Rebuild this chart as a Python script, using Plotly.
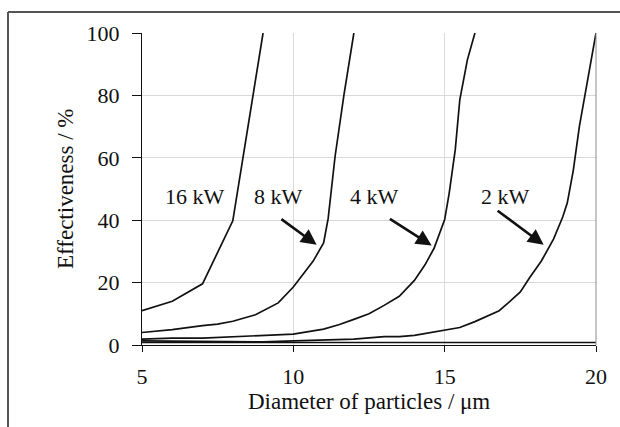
import plotly.graph_objects as go

# Data
x_16kw = [5, 6, 7, 8, 9]
y_16kw = [11, 14, 19.6, 39.8, 100]

x_8kw = [5, 6, 7, 7.5, 8, 8.75, 9.5, 10, 10.65, 11, 11.15, 11.38, 11.67, 12]
y_8kw = [4.0, 4.9, 6.2, 6.7, 7.6, 9.7, 13.5, 18.6, 26.8, 32.7, 40.5, 60.5, 80, 100]

x_4kw = [5, 6, 7, 8, 9, 10, 11, 11.5, 12, 12.5, 13, 13.5, 14, 14.35, 14.65, 14.85,
         15, 15.15, 15.35, 15.5, 15.75, 16]
y_4kw = [1.9, 2.2, 2.2, 2.7, 3.1, 3.5, 5.1, 6.5, 8.2, 10.0, 12.7, 15.6, 20.7, 25.7,
         31, 36, 40.2, 48.7, 62.6, 78.6, 91.4, 100]

x_2kw = [5, 7, 9, 10, 11, 12, 13, 13.5, 14, 15, 15.5, 16, 16.8, 17.1, 17.5, 17.8,
         18.2, 18.6, 18.9, 19.05, 19.25, 19.45, 19.7, 20]
y_2kw = [1.3, 1.1, 1.0, 1.3, 1.5, 1.9, 2.7, 2.7, 3.1, 4.8, 5.6, 7.5, 11, 13.5, 17,
         21.5, 27, 34, 41, 45.5, 56, 70, 84, 100]

x_flat = [5, 20]
y_flat = [0.8, 0.8]

labels = ["16 kW", "8 kW", "4 kW", "2 kW"]
label_x = [6.75, 9.52, 12.68, 17.02]
label_y = [47.6, 47.6, 47.6, 47.6]

arrow_tail_x = [9.555, 13.14, 16.70]
arrow_tail_y = [40.7, 40.7, 43.4]
arrow_tip_x = [10.77, 14.57, 18.27]
arrow_tip_y = [32.1, 31.9, 32.1]

x_ticks = [5, 10, 15, 20]
y_ticks = [0, 20, 40, 60, 80, 100]

x_title = "Diameter of particles / μm"
y_title = "Effectiveness / %"

FONT = "Liberation Serif"
fig = go.Figure()
for xs, ys in [(x_16kw, y_16kw), (x_8kw, y_8kw), (x_4kw, y_4kw), (x_2kw, y_2kw), (x_flat, y_flat)]:
    fig.add_trace(go.Scatter(x=xs, y=ys, mode="lines",
                             line=dict(color="#111111", width=1.7),
                             showlegend=False, hoverinfo="skip"))

pw = 620 - 142 - 24
ph = 427 - 33 - 82

annotations = []
for t, lx, ly in zip(labels, label_x, label_y):
    annotations.append(dict(x=lx, y=ly, text=t, showarrow=False, xref="x", yref="y",
                            font=dict(family=FONT, size=22, color="#111111")))
for tx, ty, hx, hy in zip(arrow_tail_x, arrow_tail_y, arrow_tip_x, arrow_tip_y):
    annotations.append(dict(x=hx, y=hy, ax=tx, ay=ty, xref="x", yref="y",
                            axref="x", ayref="y", text="", showarrow=True,
                            arrowhead=2, arrowsize=1.2, arrowwidth=2.6,
                            arrowcolor="#111111"))
annotations.append(dict(x=0.5, y=(345 - 401) / ph, xref="paper", yref="paper",
                        text=x_title, showarrow=False, yanchor="middle",
                        font=dict(family=FONT, size=23, color="#111111")))
annotations.append(dict(x=(65 - 142) / pw, y=0.5, xref="paper", yref="paper",
                        text=y_title, showarrow=False, textangle=-90,
                        xanchor="center", yanchor="middle",
                        font=dict(family=FONT, size=23, color="#111111")))

shapes = [
    # right edge of plot
    dict(type="line", xref="paper", yref="paper", x0=1, x1=1, y0=0, y1=1,
         line=dict(color="#8a8a8a", width=1)),
    # outer frame (top and left)
    dict(type="line", xref="paper", yref="paper",
         x0=(8 - 142) / pw, x1=(622 - 142) / pw, y0=(345 - 12) / ph, y1=(345 - 12) / ph,
         line=dict(color="#555555", width=2)),
    dict(type="line", xref="paper", yref="paper",
         x0=(8 - 142) / pw, x1=(8 - 142) / pw, y0=(345 - 12) / ph, y1=(345 - 430) / ph,
         line=dict(color="#555555", width=2)),
]

fig.update_layout(
    width=620, height=427,
    margin=dict(l=142, r=24, t=33, b=82),
    paper_bgcolor="white", plot_bgcolor="white",
    font=dict(family=FONT, size=22, color="#111111"),
    annotations=annotations, shapes=shapes,
    xaxis=dict(range=[5, 20], tickvals=x_ticks, ticks="outside", ticklen=6,
               tickcolor="#111111", showline=True, linecolor="#111111", linewidth=1,
               showgrid=True, gridcolor="#d9d9d9", gridwidth=1, zeroline=False,
               ticklabelstandoff=6),
    yaxis=dict(range=[0, 100], tickvals=y_ticks, ticks="outside", ticklen=9,
               tickcolor="#111111", showline=True, linecolor="#111111", linewidth=1,
               showgrid=True, gridcolor="#d9d9d9", gridwidth=1, zeroline=False,
               ticklabelstandoff=8),
)

fig.write_html("out.html", config={"displayModeBar": False},
               post_script="document.body.style.margin='0';document.body.style.overflow='hidden';")
